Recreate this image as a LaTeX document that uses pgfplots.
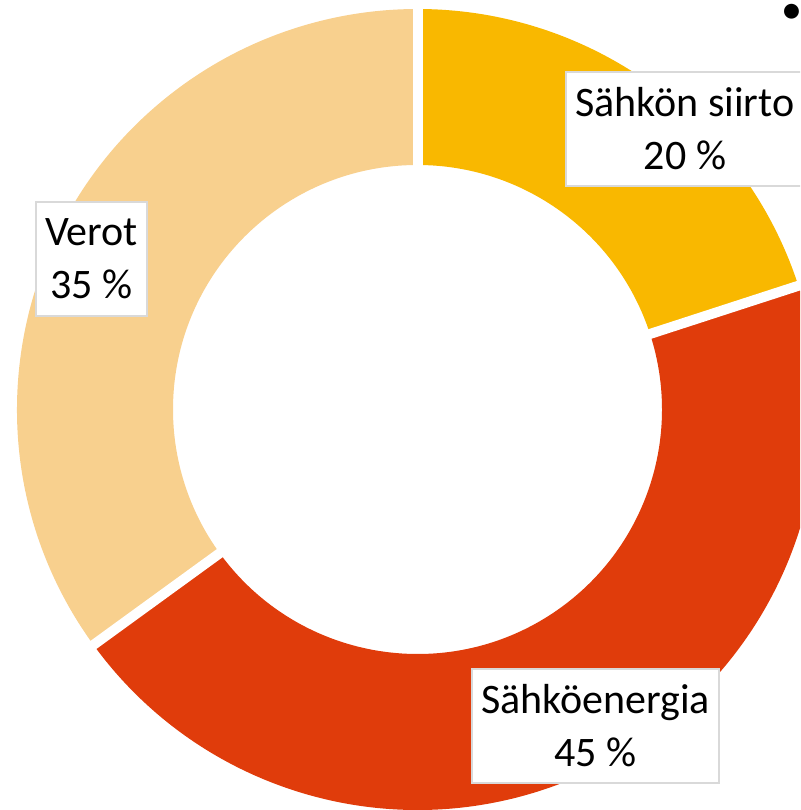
\documentclass[border=0pt]{standalone}
\usepackage{pgfplots}
\usepackage{pgfplotstable}
\pgfplotsset{compat=1.18}
\usepackage{fontspec}
\setmainfont{Carlito}
\definecolor{siirto}{HTML}{F9B800}
\definecolor{energia}{HTML}{E03C0B}
\definecolor{verot}{HTML}{F8D08E}
\definecolor{boxgray}{HTML}{D9D9D9}

\pgfplotstableread[col sep=comma]{
name,value
Sähkön siirto,20
Sähköenergia,45
Verot,35
}\piedata

\begin{document}
\begin{tikzpicture}
\pgfplotstablegetelem{0}{value}\of\piedata \let\va\pgfplotsretval
\pgfplotstablegetelem{1}{value}\of\piedata \let\vb\pgfplotsretval
\pgfplotstablegetelem{2}{value}\of\piedata \let\vc\pgfplotsretval
\pgfmathsetmacro\aA{90}
\pgfmathsetmacro\aB{\aA-3.6*\va}
\pgfmathsetmacro\aC{\aB-3.6*\vb}
\pgfmathsetmacro\aD{\aC-3.6*\vc}
\def\Ro{200.25pt}
\def\Ri{122.25pt}
\def\Rx{215pt}
\useasboundingbox (0,0) rectangle (400pt,405pt);
\clip (0,0) rectangle (400pt,405pt);
\begin{axis}[
  at={(0,0)}, anchor=south west,
  scale only axis, width=400pt, height=405pt,
  xmin=0, xmax=800, ymin=0, ymax=810,
  hide axis, clip=false,
]
% wedges
\fill[siirto] (axis cs:417.5,400.5) ++(\aA:\Ro) arc[start angle=\aA,end angle=\aB,radius=\Ro]
  -- ([shift={(\aB:\Ri)}]axis cs:417.5,400.5) arc[start angle=\aB,end angle=\aA,radius=\Ri] -- cycle;
\fill[energia] (axis cs:417.5,400.5) ++(\aB:\Ro) arc[start angle=\aB,end angle=\aC,radius=\Ro]
  -- ([shift={(\aC:\Ri)}]axis cs:417.5,400.5) arc[start angle=\aC,end angle=\aB,radius=\Ri] -- cycle;
\fill[verot] (axis cs:417.5,400.5) ++(\aC:\Ro) arc[start angle=\aC,end angle=\aD,radius=\Ro]
  -- ([shift={(\aD:\Ri)}]axis cs:417.5,400.5) arc[start angle=\aD,end angle=\aC,radius=\Ri] -- cycle;
% gaps
\draw[white, line width=5pt] (axis cs:417.5,400.5) -- ++(\aA:\Rx);
\draw[white, line width=5pt] (axis cs:417.5,400.5) -- ++(\aB:\Rx);
\draw[white, line width=5pt] (axis cs:417.5,400.5) -- ++(\aC:\Rx);
% labels
\tikzset{lbl/.style={draw=boxgray, line width=1pt, fill=white, align=center,
  font=\fontsize{21}{26.5}\selectfont, inner xsep=4.5pt, minimum height=57pt}}
\node[lbl] at (axis cs:685,681) {Sähkön siirto\\20 \%};
\node[lbl] at (axis cs:595.5,84) {Sähköenergia\\45 \%};
\node[lbl] at (axis cs:91.5,551) {Verot\\35 \%};
\node[font=\fontsize{21}{26}\selectfont, inner sep=0pt] at (axis cs:792,796) {•};
\end{axis}
\end{tikzpicture}
\end{document}
